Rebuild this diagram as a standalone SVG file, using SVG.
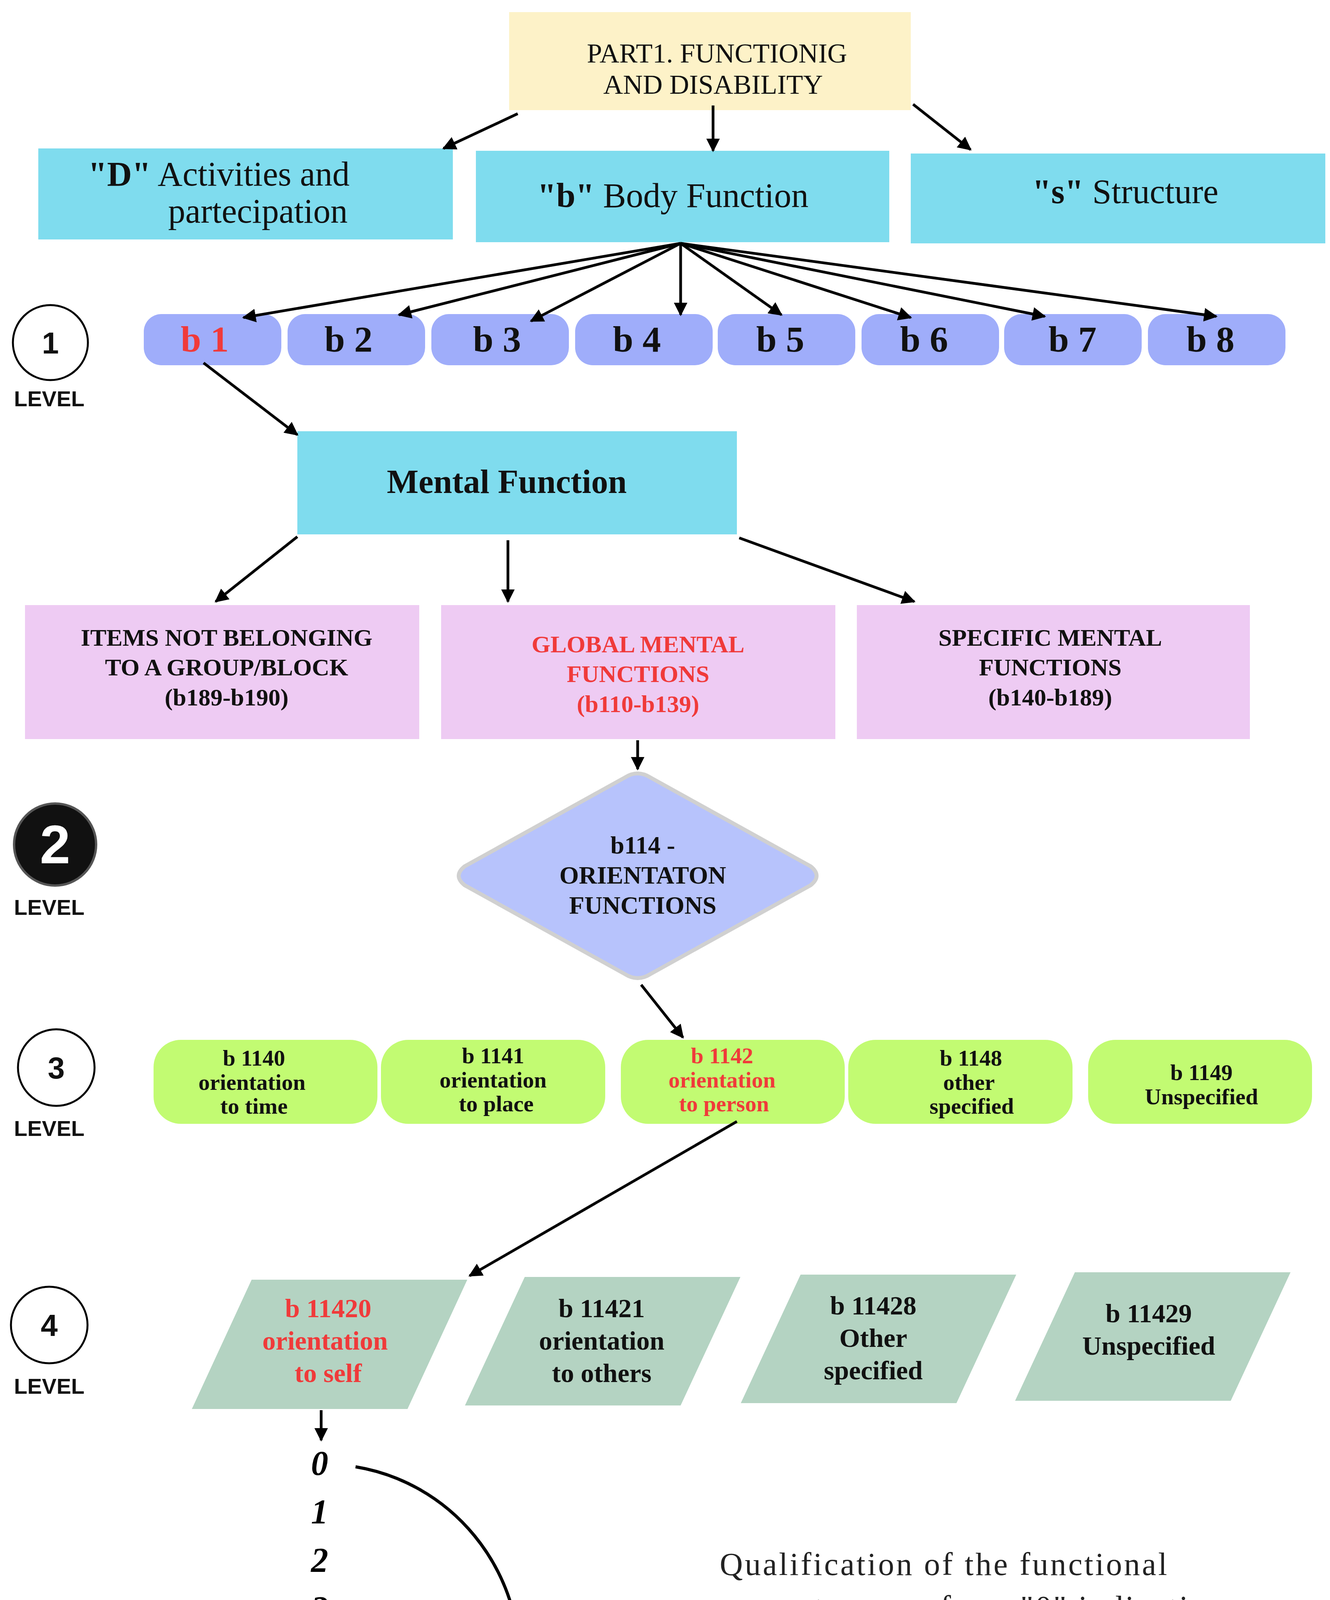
<svg xmlns="http://www.w3.org/2000/svg" width="3404" height="4779" viewBox="0 0 3404 4779">
<defs>
<marker id="ah" viewBox="0 0 10 10" refX="9" refY="5" markerWidth="5" markerHeight="5" orient="auto" markerUnits="strokeWidth"><path d="M0,0 L10,5 L0,10 z" fill="#000"/></marker>
<style>
.t{font-family:"Liberation Serif","DejaVu Serif",serif;fill:#111;text-anchor:middle}
.b{font-weight:bold}
.red{fill:#f03a3a}
.lv{font-family:"Liberation Sans","DejaVu Sans",sans-serif;font-weight:bold;text-anchor:middle;fill:#111}
.c{stroke:#000;stroke-width:7;fill:none;marker-end:url(#ah)}
.cyan{fill:#7fdcee}.pink{fill:#eecbf3}.blob{fill:#9fadfa}.green{fill:#c2fb72}.par{fill:#b4d3c2}
</style>
</defs>
<rect width="3404" height="4779" fill="#fff"/>
<g id="title"><rect x="1303" y="31" width="1028" height="251" fill="#fdf2c8"/>
<text class="t" x="1835" y="160" font-size="70">PART1. FUNCTIONIG</text>
<text class="t" x="1825" y="240" font-size="70">AND DISABILITY</text></g>
<g id="activities"><rect class="cyan" x="98" y="380" width="1061" height="233"/>
<text class="t" x="560" y="475" font-size="88"><tspan class="b">"D"</tspan> Activities and</text>
<text class="t" x="660" y="570" font-size="88">partecipation</text></g>
<g id="body"><rect class="cyan" x="1218" y="386" width="1058" height="234"/>
<text class="t" x="1722" y="530" font-size="88"><tspan class="b">"b"</tspan> Body Function</text></g>
<g id="structure"><rect class="cyan" x="2331" y="393" width="1061" height="230"/>
<text class="t" x="2880" y="520" font-size="88"><tspan class="b">"s"</tspan> Structure</text></g>
<g id="level1"><circle cx="129" cy="877" r="96" fill="#fff" stroke="#000" stroke-width="5"/>
<text class="lv" x="129" y="905" font-size="78">1</text><text class="lv" x="126" y="1040" font-size="56">LEVEL</text></g>
<g id="b1"><rect class="blob" x="368" y="804" width="352" height="131" rx="45"/><text class="t b red" x="524" y="900" font-size="94">b 1</text></g>
<g id="b2"><rect class="blob" x="736" y="804" width="352" height="131" rx="45"/><text class="t b" x="892" y="900" font-size="94">b 2</text></g>
<g id="b3"><rect class="blob" x="1104" y="804" width="352" height="131" rx="45"/><text class="t b" x="1272" y="900" font-size="94">b 3</text></g>
<g id="b4"><rect class="blob" x="1472" y="804" width="352" height="131" rx="45"/><text class="t b" x="1630" y="900" font-size="94">b 4</text></g>
<g id="b5"><rect class="blob" x="1837" y="804" width="352" height="131" rx="45"/><text class="t b" x="1997" y="900" font-size="94">b 5</text></g>
<g id="b6"><rect class="blob" x="2205" y="804" width="352" height="131" rx="45"/><text class="t b" x="2365" y="900" font-size="94">b 6</text></g>
<g id="b7"><rect class="blob" x="2570" y="804" width="352" height="131" rx="45"/><text class="t b" x="2745" y="900" font-size="94">b 7</text></g>
<g id="b8"><rect class="blob" x="2938" y="804" width="352" height="131" rx="45"/><text class="t b" x="3098" y="900" font-size="94">b 8</text></g>
<g id="mental"><rect class="cyan" x="761" y="1104" width="1125" height="264"/>
<text class="t b" x="1297" y="1262" font-size="86">Mental Function</text></g>
<g id="items"><rect class="pink" x="64" y="1549" width="1009" height="343"/>
<text class="t b" x="580" y="1653" font-size="62">ITEMS NOT BELONGING</text>
<text class="t b" x="580" y="1729" font-size="62">TO A GROUP/BLOCK</text>
<text class="t b" x="580" y="1806" font-size="62">(b189-b190)</text></g>
<g id="global"><rect class="pink" x="1129" y="1549" width="1009" height="343"/>
<text class="t b red" x="1633" y="1670" font-size="62">GLOBAL MENTAL</text>
<text class="t b red" x="1633" y="1746" font-size="62">FUNCTIONS</text>
<text class="t b red" x="1633" y="1823" font-size="62">(b110-b139)</text></g>
<g id="specific"><rect class="pink" x="2193" y="1549" width="1006" height="343"/>
<text class="t b" x="2688" y="1653" font-size="62">SPECIFIC MENTAL</text>
<text class="t b" x="2688" y="1729" font-size="62">FUNCTIONS</text>
<text class="t b" x="2688" y="1806" font-size="62">(b140-b189)</text></g>
<g id="level2"><circle cx="141" cy="2162" r="105" fill="#111" stroke="#555" stroke-width="6"/>
<text class="lv" x="141" y="2210" font-size="140" fill="#fff" style="fill:#fff">2</text><text class="lv" x="126" y="2342" font-size="56">LEVEL</text></g>
<g id="b114"><path d="M1600,1990 Q1632,1970 1664,1990 L2075,2218 Q2105,2242 2075,2266 L1664,2494 Q1632,2514 1600,2494 L1189,2266 Q1159,2242 1189,2218 Z" fill="#b7c3fc" stroke="#d0d0d0" stroke-width="10"/>
<text class="t b" x="1645" y="2185" font-size="64">b114 -</text>
<text class="t b" x="1645" y="2262" font-size="64">ORIENTATON</text>
<text class="t b" x="1645" y="2339" font-size="64">FUNCTIONS</text></g>
<g id="level3"><circle cx="144" cy="2733" r="98" fill="#fff" stroke="#000" stroke-width="5"/>
<text class="lv" x="144" y="2761" font-size="78">3</text><text class="lv" x="126" y="2908" font-size="56">LEVEL</text></g>
<g id="b1140"><rect class="green" x="393" y="2662" width="573" height="215" rx="70"/>
<text class="t b" x="650" y="2728" font-size="58">b 1140</text><text class="t b" x="645" y="2790" font-size="58">orientation</text><text class="t b" x="650" y="2851" font-size="58">to time</text></g>
<g id="b1141"><rect class="green" x="975" y="2662" width="574" height="215" rx="70"/>
<text class="t b" x="1262" y="2722" font-size="58">b 1141</text><text class="t b" x="1262" y="2784" font-size="58">orientation</text><text class="t b" x="1270" y="2845" font-size="58">to place</text></g>
<g id="b1142"><rect class="green" x="1589" y="2662" width="573" height="215" rx="70"/>
<text class="t b red" x="1848" y="2722" font-size="58">b 1142</text><text class="t b red" x="1848" y="2784" font-size="58">orientation</text><text class="t b red" x="1853" y="2845" font-size="58">to person</text></g>
<g id="b1148"><rect class="green" x="2171" y="2662" width="574" height="215" rx="70"/>
<text class="t b" x="2485" y="2728" font-size="58">b 1148</text><text class="t b" x="2480" y="2790" font-size="58">other</text><text class="t b" x="2487" y="2851" font-size="58">specified</text></g>
<g id="b1149"><rect class="green" x="2785" y="2662" width="573" height="215" rx="70"/>
<text class="t b" x="3075" y="2765" font-size="58">b 1149</text><text class="t b" x="3075" y="2827" font-size="58">Unspecified</text></g>
<g id="level4"><circle cx="126" cy="3392" r="98" fill="#fff" stroke="#000" stroke-width="5"/>
<text class="lv" x="126" y="3420" font-size="78">4</text><text class="lv" x="126" y="3568" font-size="56">LEVEL</text></g>
<g id="b11420"><polygon class="par" points="644,3276 1196,3276 1043,3607 491,3607"/>
<text class="t b red" x="840" y="3372" font-size="68">b 11420</text><text class="t b red" x="832" y="3455" font-size="68">orientation</text><text class="t b red" x="840" y="3538" font-size="68">to self</text></g>
<g id="b11421"><polygon class="par" points="1343,3269 1895,3269 1742,3598 1190,3598"/>
<text class="t b" x="1540" y="3372" font-size="68">b 11421</text><text class="t b" x="1540" y="3455" font-size="68">orientation</text><text class="t b" x="1540" y="3538" font-size="68">to others</text></g>
<g id="b11428"><polygon class="par" points="2049,3263 2601,3263 2448,3592 1896,3592"/>
<text class="t b" x="2235" y="3365" font-size="68">b 11428</text><text class="t b" x="2235" y="3448" font-size="68">Other</text><text class="t b" x="2235" y="3531" font-size="68">specified</text></g>
<g id="b11429"><polygon class="par" points="2751,3257 3303,3257 3150,3586 2598,3586"/>
<text class="t b" x="2940" y="3385" font-size="68">b 11429</text><text class="t b" x="2940" y="3468" font-size="68">Unspecified</text></g>
<g id="qualifiers" font-family="'Liberation Serif',serif" font-style="italic" font-weight="bold" font-size="88" text-anchor="middle" fill="#000">
<text x="818" y="3775">0</text><text x="818" y="3899">1</text><text x="818" y="4023">2</text><text x="818" y="4147">3</text><text x="818" y="4271">4</text><text x="818" y="4395">5</text><text x="818" y="4519">6</text><text x="818" y="4643">7</text><text x="818" y="4767">8</text>
<path d="M910,3755 A500,509 0 0 1 889,4763" fill="none" stroke="#000" stroke-width="8"/></g>
<g id="note" font-family="'Liberation Serif',serif" font-size="82" letter-spacing="5" text-anchor="middle" fill="#222">
<text x="2417" y="4032">Qualification of the functional</text>
<text x="2420" y="4142">component ranges from "0" indicating</text>
<text x="2417" y="4252">no problem to '4' indicating complete</text>
<text x="2417" y="4363">problem (followed by the number '8'</text>
<text x="2417" y="4473">indicating 'not specified' and the number</text>
<text x="2417" y="4584">''9' indicting 'not applicable')</text></g>
<g id="connectors">
<line class="c" x1="1325" y1="291" x2="1135" y2="380"/>
<line class="c" x1="1825" y1="270" x2="1825" y2="386"/>
<line class="c" x1="2337" y1="267" x2="2484" y2="383"/>
<line class="c" x1="1742" y1="623" x2="623" y2="813"/>
<line class="c" x1="1742" y1="623" x2="1021" y2="806"/>
<line class="c" x1="1742" y1="623" x2="1359" y2="822"/>
<line class="c" x1="1742" y1="623" x2="1742" y2="806"/>
<line class="c" x1="1742" y1="623" x2="2000" y2="806"/>
<line class="c" x1="1742" y1="623" x2="2331" y2="813"/>
<line class="c" x1="1742" y1="623" x2="2674" y2="810"/>
<line class="c" x1="1742" y1="623" x2="3113" y2="810"/>
<line class="c" x1="521" y1="929" x2="761" y2="1113"/>
<line class="c" x1="761" y1="1374" x2="552" y2="1540"/>
<line class="c" x1="1300" y1="1383" x2="1300" y2="1540"/>
<line class="c" x1="1892" y1="1377" x2="2340" y2="1540"/>
<line class="c" x1="1632" y1="1895" x2="1632" y2="1969"/>
<line class="c" x1="1641" y1="2521" x2="1748" y2="2656"/>
<line class="c" x1="1886" y1="2871" x2="1202" y2="3266"/>
<line class="c" x1="822" y1="3610" x2="822" y2="3687"/>
</g>
</svg>
